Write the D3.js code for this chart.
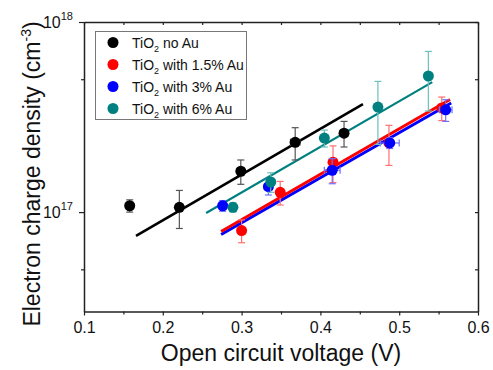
<!DOCTYPE html>
<html>
<head>
<meta charset="utf-8">
<script src="https://cdn.jsdelivr.net/npm/d3@7"></script>
<style>
  html, body { margin: 0; padding: 0; background: #fff; }
  svg { display: block; font-family: "Liberation Sans", Arial, sans-serif; }
</style>
</head>
<body>
<div id="chart"></div>
<script>
// series: open circuit voltage (V) vs electron charge density (cm^-3)
const seriesKeys = ['noAu', 'au15', 'au3', 'au6'];
const seriesLabels = ['no Au', 'with 1.5% Au', 'with 3% Au', 'with 6% Au'];
const seriesColors = ['#000000', '#ff0000', '#0000ff', '#008080'];
const errColors = ['#555555', '#ff6f6f', '#6f6fff', '#6cbfbb'];

const noAuV = [0.158, 0.221, 0.299, 0.368, 0.430];
const noAuN = [1.08e17, 1.06e17, 1.64e17, 2.33e17, 2.60e17];
const noAuNErr = [0.08e17, 0.24e17, 0.24e17, 0.45e17, 0.40e17];
const noAuVErr = [0.002, 0.004, 0.004, 0.006, 0.005];

const au15V = [0.300, 0.349, 0.416, 0.487, 0.554];
const au15N = [0.80e17, 1.27e17, 1.83e17, 2.31e17, 3.53e17];
const au15NErr = [0.11e17, 0.18e17, 0.40e17, 0.55e17, 0.50e17];
const au15VErr = [0.002, 0.003, 0.004, 0.004, 0.004];

const au3V = [0.276, 0.334, 0.415, 0.488, 0.559];
const au3N = [1.08e17, 1.36e17, 1.66e17, 2.31e17, 3.45e17];
const au3NErr = [0.07e17, 0.13e17, 0.25e17, 0.15e17, 0.45e17];
const au3VErr = [0.003, 0.005, 0.010, 0.012, 0.008];

const au6V = [0.289, 0.337, 0.405, 0.473, 0.537];
const au6N = [1.06e17, 1.44e17, 2.45e17, 3.57e17, 5.20e17];
const au6NErr = [0.06e17, 0.17e17, 0.25e17, 1.30e17, 1.80e17];
const au6VErr = [0.002, 0.002, 0.002, 0.002, 0.002];

// linear fits (end points)
const fitV = { noAu: [0.166, 0.454], au15: [0.274, 0.5645], au3: [0.274, 0.566], au6: [0.255, 0.542] };
const fitN = { noAu: [7.5e16, 3.7e17], au15: [7.9e16, 3.91e17], au3: [7.62e16, 3.75e17], au6: [9.9e16, 4.83e17] };

const xTicks = [0.1, 0.2, 0.3, 0.4, 0.5, 0.6];
const xMinor = [0.15, 0.25, 0.35, 0.45, 0.55];
const yTicks = [1e17, 1e18];
const yMinor = [5e16, 5e17];

const W = 493, H = 370;
const x = d3.scaleLinear().domain([0.1, 0.6]).range([84, 478]);
const y = d3.scaleLog().domain([3e16, 1e18]).range([311.5, 22]);

const svg = d3.select('#chart').append('svg').attr('width', W).attr('height', H);
svg.append('rect').attr('width', W).attr('height', H).attr('fill', '#fff');

const axisColor = '#222';

// bottom axis (ticks out)
const gx = svg.append('g').attr('transform', `translate(0,${y.range()[0]})`)
  .call(d3.axisBottom(x).tickValues(xTicks).tickSize(4).tickSizeOuter(0).tickFormat(d3.format('.1f')).tickPadding(6));
gx.append('g').call(d3.axisBottom(x).tickValues(xMinor).tickSize(3).tickSizeOuter(0).tickFormat(''))
  .select('.domain').remove();
// top axis (ticks in)
const gxt = svg.append('g').attr('transform', `translate(0,${y.range()[1]})`)
  .call(d3.axisBottom(x).tickValues(xTicks.concat(xMinor)).tickSize(3).tickSizeOuter(0).tickFormat(''));
// left axis (ticks out)
const gy = svg.append('g').attr('transform', `translate(${x.range()[0]},0)`)
  .call(d3.axisLeft(y).tickValues(yTicks).tickSize(5).tickSizeOuter(0).tickFormat('').tickPadding(4));
gy.append('g').call(d3.axisLeft(y).tickValues(yMinor).tickSize(3).tickSizeOuter(0).tickFormat(''))
  .select('.domain').remove();
// right axis (ticks in)
const gyr = svg.append('g').attr('transform', `translate(${x.range()[1]},0)`)
  .call(d3.axisLeft(y).tickValues(yTicks.concat(yMinor)).tickSize(3).tickSizeOuter(0).tickFormat(''));

[gx, gxt, gy, gyr].forEach(g => {
  g.selectAll('.domain').attr('stroke', axisColor).attr('stroke-width', 1.5);
  g.selectAll('line').attr('stroke', axisColor).attr('stroke-width', 1.2);
});
gx.selectAll('text').attr('font-size', 16).attr('fill', '#111')
  .attr('font-family', '"Liberation Sans", Arial, sans-serif');

// y tick labels as 10^n
yTicks.forEach(v => {
  const t = svg.append('text').attr('x', 73).attr('y', y(v) + 6)
    .attr('text-anchor', 'end').attr('font-size', 16).attr('fill', '#111');
  t.append('tspan').text('10');
  t.append('tspan').attr('dy', -8).attr('font-size', 11).text(Math.round(Math.log10(v)));
});

// axis titles
svg.append('text').attr('x', 281).attr('y', 361).attr('text-anchor', 'middle')
  .attr('font-size', 23).attr('fill', '#111').text('Open circuit voltage (V)');
const yl = svg.append('text').attr('transform', 'translate(40,174) rotate(-90)')
  .attr('text-anchor', 'middle').attr('font-size', 23).attr('fill', '#111');
yl.append('tspan').text('Electron charge density (cm');
yl.append('tspan').attr('dy', -9).attr('font-size', 14).text('-3');
yl.append('tspan').attr('dy', 9).text(')');

// data
const seriesData = {
  noAu: d3.zip(noAuV, noAuN, noAuNErr, noAuVErr),
  au15: d3.zip(au15V, au15N, au15NErr, au15VErr),
  au3: d3.zip(au3V, au3N, au3NErr, au3VErr),
  au6: d3.zip(au6V, au6N, au6NErr, au6VErr),
};
const fitWidths = { noAu: 2.6, au15: 3, au3: 3, au6: 2.2 };

const plot = svg.append('g');
// fit lines (blue under red)
['noAu', 'au6', 'au3', 'au15'].forEach(k => {
  const i = seriesKeys.indexOf(k);
  plot.append('path')
    .datum(d3.zip(fitV[k], fitN[k]))
    .attr('fill', 'none').attr('stroke', seriesColors[i]).attr('stroke-width', fitWidths[k])
    .attr('d', d3.line().x(d => x(d[0])).y(d => y(d[1])));
});

const cap = 3.5;
seriesKeys.forEach((k, i) => {
  const g = plot.append('g');
  const c = errColors[i];
  seriesData[k].forEach(([v, n, ne, ve]) => {
    const px = x(v), py = y(n);
    const y1 = y(n + ne), y2 = y(Math.max(n - ne, 1e15));
    g.append('line').attr('x1', px).attr('x2', px).attr('y1', y1).attr('y2', y2).attr('stroke', c).attr('stroke-width', 1.2);
    g.append('line').attr('x1', px - cap).attr('x2', px + cap).attr('y1', y1).attr('y2', y1).attr('stroke', c).attr('stroke-width', 1.2);
    g.append('line').attr('x1', px - cap).attr('x2', px + cap).attr('y1', y2).attr('y2', y2).attr('stroke', c).attr('stroke-width', 1.2);
    const x1 = x(v - ve), x2 = x(v + ve);
    g.append('line').attr('x1', x1).attr('x2', x2).attr('y1', py).attr('y2', py).attr('stroke', c).attr('stroke-width', 1.2);
    g.append('line').attr('x1', x1).attr('x2', x1).attr('y1', py - cap).attr('y2', py + cap).attr('stroke', c).attr('stroke-width', 1.2);
    g.append('line').attr('x1', x2).attr('x2', x2).attr('y1', py - cap).attr('y2', py + cap).attr('stroke', c).attr('stroke-width', 1.2);
  });
  g.selectAll('circle').data(seriesData[k]).join('circle')
    .attr('cx', d => x(d[0])).attr('cy', d => y(d[1])).attr('r', 5.5)
    .attr('fill', seriesColors[i]);
});

// legend
const lg = svg.append('g');
lg.append('rect').attr('x', 95.5).attr('y', 31.5).attr('width', 151).attr('height', 88)
  .attr('fill', '#fff').attr('stroke', '#777').attr('stroke-width', 1);
seriesKeys.forEach((k, i) => {
  const ly = 42.5 + i * 22;
  lg.append('circle').attr('cx', 113).attr('cy', ly).attr('r', 5.5).attr('fill', seriesColors[i]);
  const t = lg.append('text').attr('x', 132).attr('y', ly + 5).attr('font-size', 14).attr('fill', '#111');
  t.append('tspan').text('TiO');
  t.append('tspan').attr('dy', 4).attr('font-size', 9).text('2');
  t.append('tspan').attr('dy', -4).text(' ' + seriesLabels[i]);
});
</script>
</body>
</html>
